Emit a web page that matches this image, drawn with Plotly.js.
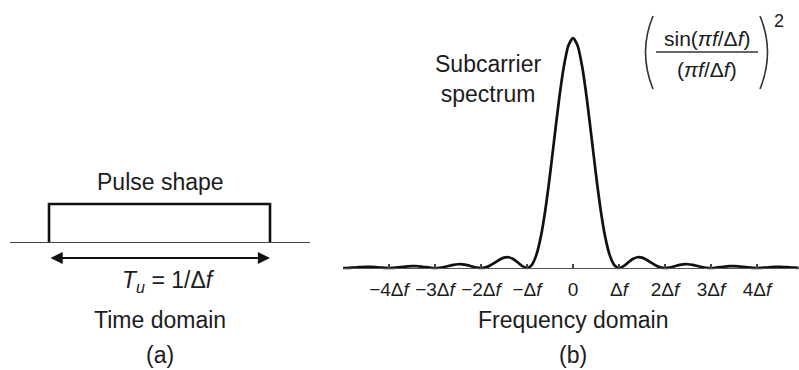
<!DOCTYPE html>
<html><head><meta charset="utf-8">
<script src="https://cdn.plot.ly/plotly-3.0.1.min.js"></script>
<style>html,body{margin:0;padding:0;background:#fff}#c{width:799px;height:370px}</style>
</head><body><div id="c"></div>
<script>
// ---- data ----
const pulseT = [-0.5, -0.5, 0.5, 0.5];
const pulseAmp = [0, 1, 1, 0];
const arrowLevel = -0.42;
const freqOffsets = [
 -5.0,-4.9,-4.8,-4.7,-4.6,-4.5,-4.4,-4.3,-4.2,-4.1,
 -4.0,-3.9,-3.8,-3.7,-3.6,-3.5,-3.4,-3.3,-3.2,-3.1,
 -3.0,-2.9,-2.8,-2.7,-2.6,-2.5,-2.4,-2.3,-2.2,-2.1,
 -2.0,-1.9,-1.8,-1.7,-1.6,-1.5,-1.4,-1.3,-1.2,-1.1,
 -1.0,-0.9,-0.8,-0.7,-0.6,-0.5,-0.4,-0.3,-0.2,-0.1,
 0.0,0.1,0.2,0.3,0.4,0.5,0.6,0.7,0.8,0.9,
 1.0,1.1,1.2,1.3,1.4,1.5,1.6,1.7,1.8,1.9,
 2.0,2.1,2.2,2.3,2.4,2.5,2.6,2.7,2.8,2.9,
 3.0,3.1,3.2,3.3,3.4,3.5,3.6,3.7,3.8,3.9,
 4.0,4.1,4.2,4.3,4.4,4.5,4.6,4.7,4.8,4.9
];
const spectrum = [
 0,0.0004,0.0015,0.0030,0.0043,0.0050,0.0047,0.0036,0.0020,0.0006,
 0,0.0006,0.0024,0.0048,0.0071,0.0083,0.0079,0.0061,0.0034,0.0010,
 0,0.0012,0.0045,0.0091,0.0136,0.0162,0.0159,0.0125,0.0072,0.0022,
 0,0.0027,0.0108,0.0230,0.0358,0.0450,0.0468,0.0392,0.0243,0.0080,
 0,0.0119,0.0547,0.1353,0.2546,0.4053,0.5728,0.7368,0.8751,0.9675,
 1.0,0.9675,0.8751,0.7368,0.5728,0.4053,0.2546,0.1353,0.0547,0.0119,
 0,0.0080,0.0243,0.0392,0.0468,0.0450,0.0358,0.0230,0.0108,0.0027,
 0,0.0022,0.0072,0.0125,0.0159,0.0162,0.0136,0.0091,0.0045,0.0012,
 0,0.0010,0.0034,0.0061,0.0079,0.0083,0.0071,0.0048,0.0024,0.0006,
 0,0.0006,0.0020,0.0036,0.0047,0.0050,0.0043,0.0030,0.0015,0.0004
];
const tickVals = [-4,-3,-2,-1,0,1,2,3,4];
const tickLabels = ['−4Δ<i>f</i>','−3Δ<i>f</i>','−2Δ<i>f</i>','−Δ<i>f</i>','0','Δ<i>f</i>','2Δ<i>f</i>','3Δ<i>f</i>','4Δ<i>f</i>'];

// ---- helpers (pixel -> paper) ----
const W = 799, H = 370;
const px = x => x / W;
const py = y => 1 - y / H;
const FONT = 'Liberation Sans, Arial, sans-serif';
const TXT = '#1c1c1c';

function label(text, x, y, size, extra) {
  return Object.assign({text: text, xref: 'paper', yref: 'paper', x: px(x), y: py(y),
    xanchor: 'center', yanchor: 'middle', showarrow: false,
    font: {family: FONT, size: size, color: TXT}}, extra || {});
}

const traces = [
  {x: pulseT, y: pulseAmp, xaxis: 'x', yaxis: 'y', mode: 'lines',
   line: {color: '#111', width: 2.6}, hoverinfo: 'skip'},
  {x: freqOffsets, y: spectrum, xaxis: 'x2', yaxis: 'y2', mode: 'lines',
   line: {color: '#111', width: 2.7, shape: 'spline', smoothing: 0.6}, hoverinfo: 'skip'}
];

const layout = {
  width: W, height: H, margin: {l: 0, r: 0, t: 0, b: 0},
  paper_bgcolor: '#fff', plot_bgcolor: 'rgba(0,0,0,0)', showlegend: false,
  xaxis: {domain: [px(10), px(310)], range: [-0.6765, 0.681], anchor: 'free', position: py(242),
    showline: true, linecolor: '#444', linewidth: 1.3, showticklabels: false, ticks: '',
    showgrid: false, zeroline: false, fixedrange: true},
  yaxis: {domain: [0, 1], range: [-3.368, 6.369], visible: false, fixedrange: true},
  xaxis2: {domain: [px(343), 1], range: [-5, 4.913], anchor: 'free', position: py(268),
    showline: true, linecolor: '#555', linewidth: 1.3, showgrid: false, zeroline: false,
    tickvals: tickVals, ticktext: tickLabels, ticks: 'inside', ticklen: 4, tickcolor: '#444',
    tickwidth: 1.2, ticklabelstandoff: 4, tickfont: {family: FONT, size: 19, color: TXT}, fixedrange: true},
  yaxis2: {domain: [0, 1], range: [-0.4435, 1.1652], anchor: 'x2', visible: false, fixedrange: true},
  annotations: [
    {xref: 'x', yref: 'y', x: pulseT[3], y: arrowLevel, axref: 'x', ayref: 'y', ax: pulseT[0], ay: arrowLevel,
     text: '', showarrow: true, arrowside: 'end+start', arrowhead: 2, arrowsize: 1.35,
     arrowwidth: 1.8, arrowcolor: '#111', standoff: 0, startstandoff: 0},
    label('Pulse shape', 160, 182, 23),
    label('<i>T<sub>u</sub></i> = 1/Δ<i>f</i>', 168, 281, 23),
    label('Time domain', 160, 320, 23),
    label('(a)', 160, 355, 23),
    label('Subcarrier<br>spectrum', 488, 79, 23),
    label('Frequency domain', 573, 320, 23),
    label('(b)', 573, 355, 23),
    label('sin(<i>πf</i>/Δ<i>f</i>)', 707, 38, 21),
    label('(<i>πf</i>/Δ<i>f</i>)', 707, 69, 21),
    label('2', 779, 21, 18)
  ],
  shapes: [
    {type: 'line', xref: 'paper', yref: 'paper', x0: px(656), x1: px(758), y0: py(52), y1: py(52),
     line: {color: '#333', width: 1.4}},
    {type: 'path', xref: 'paper', yref: 'paper',
     path: `M ${px(653)},${py(16)} Q ${px(638)},${py(52)} ${px(653)},${py(89)}`,
     line: {color: '#333', width: 1.6}},
    {type: 'path', xref: 'paper', yref: 'paper',
     path: `M ${px(760)},${py(16)} Q ${px(775)},${py(52)} ${px(760)},${py(89)}`,
     line: {color: '#333', width: 1.6}}
  ]
};

Plotly.newPlot('c', traces, layout, {staticPlot: true, displayModeBar: false});
</script>
</body></html>
